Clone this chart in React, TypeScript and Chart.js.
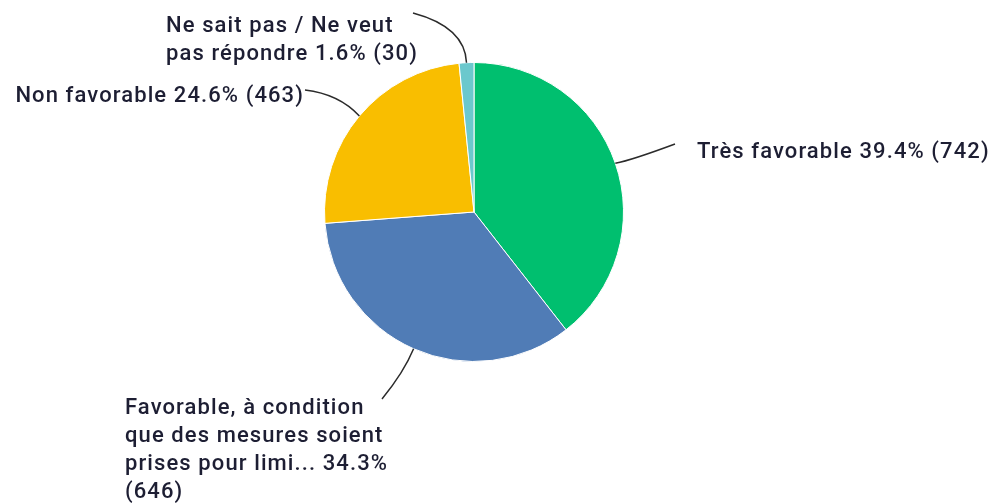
import React, { useEffect, useRef } from "react";
import { Chart, registerables } from "chart.js";

Chart.register(...registerables);

const categories = [
  "Très favorable",
  "Favorable, à condition que des mesures soient prises pour limi...",
  "Non favorable",
  "Ne sait pas / Ne veut pas répondre",
];
const counts = [742, 646, 463, 30];
const percents = [39.4, 34.3, 24.6, 1.6];
const colors = ["#00bf6f", "#507cb6", "#f9be00", "#6bc8cd"];
const labelLines = [
  ["Très favorable 39.4% (742)"],
  ["Favorable, à condition", "que des mesures soient", "prises pour limi... 34.3%", "(646)"],
  ["Non favorable 24.6% (463)"],
  ["Ne sait pas / Ne veut", "pas répondre 1.6% (30)"],
];

// label placement, relative to pie centre (px)
const labelPlace = [
  { x: 223, y: -54, align: "left", end: { x: 201, y: -68 }, ctrl: [{ x: 158, y: -52 }] },
  { x: -349, y: 202, align: "left", end: { x: -92, y: 187 }, ctrl: [{ x: -70, y: 160 }] },
  { x: -170, y: -110, align: "right", end: { x: -169, y: -122 }, ctrl: [{ x: -135, y: -118 }] },
  { x: -308, y: -180, align: "left", end: { x: -61, y: -199 }, ctrl: [{ x: -9, y: -185 }] },
];

const FONT = "500 22px Roboto";
const LINE_H = 28;

const labelPlugin = {
  id: "leaderLabels",
  afterDraw(chart: any) {
    const ctx = chart.ctx;
    const meta = chart.getDatasetMeta(0);
    ctx.save();
    meta.data.forEach((arc: any, i: number) => {
      const { x: cx, y: cy, startAngle, endAngle, outerRadius } = arc.getProps(
        ["x", "y", "startAngle", "endAngle", "outerRadius"],
        true
      );
      const mid = (startAngle + endAngle) / 2;
      const sx = cx + Math.cos(mid) * outerRadius;
      const sy = cy + Math.sin(mid) * outerRadius;
      const p = labelPlace[i];
      ctx.strokeStyle = "#2b2b2b";
      ctx.lineWidth = 1.5;
      ctx.beginPath();
      ctx.moveTo(sx, sy);
      const c = p.ctrl[0];
      ctx.quadraticCurveTo(cx + c.x, cy + c.y, cx + p.end.x, cy + p.end.y);
      ctx.stroke();

      ctx.font = FONT;
      (ctx as any).letterSpacing = "1.1px";
      ctx.fillStyle = "#1d1e33";
      ctx.textAlign = p.align;
      ctx.textBaseline = "alphabetic";
      labelLines[i].forEach((line, k) => {
        ctx.fillText(line, cx + p.x, cy + p.y + k * LINE_H);
      });
      (ctx as any).letterSpacing = "0px";
    });
    ctx.restore();
  },
};

export default function App() {
  const ref = useRef<HTMLCanvasElement>(null);
  useEffect(() => {
    document.body.style.margin = "0";
    const chart = new Chart(ref.current!, {
      type: "pie",
      data: {
        labels: categories,
        datasets: [
          {
            data: counts,
            backgroundColor: colors,
            borderColor: "#ffffff",
            borderWidth: 1,
          },
        ],
      },
      options: {
        responsive: false,
        animation: false,
        layout: { padding: { top: 62, bottom: 142, left: 324, right: 368 } },
        plugins: {
          legend: { display: false },
          tooltip: { enabled: false },
        },
      },
      plugins: [labelPlugin],
    });
    return () => chart.destroy();
  }, []);
  return (
    <div style={{ width: 992, height: 504, background: "#fff" }}>
      <canvas ref={ref} width={992} height={504} />
    </div>
  );
}
